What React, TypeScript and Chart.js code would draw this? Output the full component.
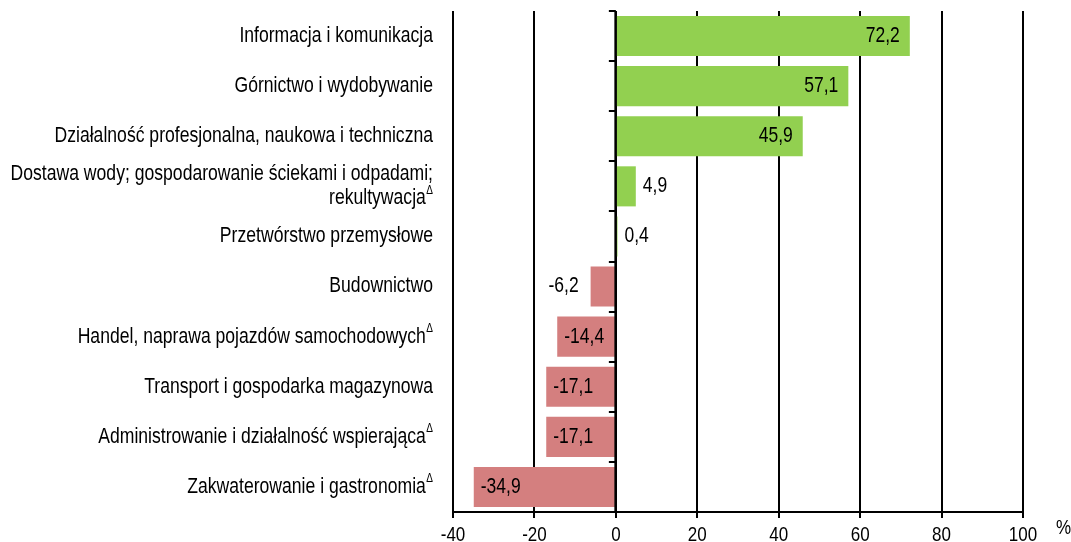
import React, { useEffect, useRef } from "react";
import { Chart, registerables } from "chart.js";

Chart.register(...registerables);

const categories: string[][] = [
  ["Informacja i komunikacja"],
  ["Górnictwo i wydobywanie"],
  ["Działalność profesjonalna, naukowa i techniczna"],
  ["Dostawa wody; gospodarowanie ściekami i odpadami;", "rekultywacja"],
  ["Przetwórstwo przemysłowe"],
  ["Budownictwo"],
  ["Handel, naprawa pojazdów samochodowych"],
  ["Transport i gospodarka magazynowa"],
  ["Administrowanie i działalność wspierająca"],
  ["Zakwaterowanie i gastronomia"],
];
const deltaMark: boolean[] = [false, false, false, true, false, false, true, false, true, true];
const values: number[] = [72.2, 57.1, 45.9, 4.9, 0.4, -6.2, -14.4, -17.1, -17.1, -34.9];
const xTicks: number[] = [-40, -20, 0, 20, 40, 60, 80, 100];
const unitLabel = "%";

const GREEN = "#92D050";
const RED = "#D47F7F";
const FONT = "'Liberation Sans', Arial, sans-serif";
const SY = 1.22;

const fmt = (v: number) => v.toFixed(1).replace(".", ",");

function drawText(
  ctx: CanvasRenderingContext2D,
  text: string,
  x: number,
  y: number,
  align: CanvasTextAlign,
  size: number,
  baseline: CanvasTextBaseline = "middle"
) {
  ctx.save();
  ctx.font = `${size}px ${FONT}`;
  ctx.textAlign = align;
  ctx.textBaseline = baseline;
  ctx.translate(x, y);
  ctx.scale(1, SY);
  ctx.fillText(text, 0, 0);
  ctx.restore();
}

const overlayPlugin = {
  id: "overlay",
  afterDatasetsDraw(chart: any) {
    const ctx: CanvasRenderingContext2D = chart.ctx;
    const x = chart.scales.x;
    const y = chart.scales.y;
    const area = chart.chartArea;
    ctx.save();
    const zx = x.getPixelForValue(0);
    ctx.strokeStyle = "#000";
    ctx.lineWidth = 2;
    // zero line on top of bars
    ctx.beginPath();
    ctx.moveTo(zx - 0.5, area.top);
    ctx.lineTo(zx - 0.5, area.bottom);
    ctx.stroke();
    // zero-line ticks at category boundaries
    const band = (area.bottom - area.top) / categories.length;
    for (let i = 0; i < categories.length; i++) {
      const by = Math.round(area.top + i * band);
      ctx.beginPath();
      ctx.moveTo(zx - 7, by);
      ctx.lineTo(zx, by);
      ctx.stroke();
    }
    ctx.fillStyle = "#000";
    // category labels
    const labelRight = area.left - 20;
    const size = 17.6;
    categories.forEach((lines, i) => {
      const cy = y.getPixelForValue(i);
      const lh = 24;
      const startY = cy - ((lines.length - 1) * lh) / 2;
      lines.forEach((line, j) => {
        const ly = startY + j * lh;
        const isLast = j === lines.length - 1;
        let right = labelRight;
        if (isLast && deltaMark[i]) {
          drawText(ctx, "\u0394", labelRight, ly - 8, "right", 10);
          ctx.font = `10px ${FONT}`;
          right = labelRight - ctx.measureText("\u0394").width - 0.5;
        }
        drawText(ctx, line, right, ly, "right", size);
      });
    });
    // value labels
    values.forEach((v, i) => {
      const cy = y.getPixelForValue(i);
      const ex = x.getPixelForValue(v);
      const t = fmt(v);
      if (v >= 0) {
        if (v >= 10) drawText(ctx, t, ex - 10, cy, "right", 17.5);
        else drawText(ctx, t, ex + 7, cy, "left", 17.5);
      } else {
        if (v <= -10) drawText(ctx, t, ex + 7, cy, "left", 17.5);
        else drawText(ctx, t, ex - 12, cy, "right", 17.5);
      }
    });
    // x tick labels
    xTicks.forEach((v) => {
      drawText(ctx, String(v), x.getPixelForValue(v), area.bottom + 29, "center", 17, "alphabetic");
    });
    // unit label
    drawText(ctx, unitLabel, area.right + 33, area.bottom + 22, "left", 17, "alphabetic");
    ctx.restore();
  },
};

export default function App() {
  const ref = useRef<HTMLCanvasElement | null>(null);
  useEffect(() => {
    document.body.style.margin = "0";
    const canvas = ref.current;
    if (!canvas) return;
    const chart = new Chart(canvas, {
      type: "bar",
      data: {
        labels: categories.map((c) => c.join(" ")),
        datasets: [
          {
            data: values,
            backgroundColor: values.map((v) => (v >= 0 ? GREEN : RED)),
            borderWidth: 0,
            barPercentage: 0.8,
            categoryPercentage: 1,
          },
        ],
      },
      options: {
        indexAxis: "y",
        animation: false,
        responsive: false,
        maintainAspectRatio: false,
        layout: { padding: { left: 453, right: 48, top: 11, bottom: 0 } },
        plugins: {
          legend: { display: false },
          tooltip: { enabled: false },
        },
        scales: {
          x: {
            type: "linear",
            min: -40,
            max: 100,
            afterBuildTicks: (s: any) => {
              s.ticks = xTicks.map((v) => ({ value: v }));
            },
            afterFit: (s: any) => {
              s.height = 30;
            },
            grid: {
              color: "#000",
              lineWidth: 2,
              drawTicks: true,
              tickLength: 6,
              tickColor: "#000",
            },
            border: { display: true, color: "#000", width: 2 },
            ticks: {
              display: false,
            },
          },
          y: {
            display: false,
            grid: { display: false },
          },
        },
      },
      plugins: [overlayPlugin],
    });
    return () => chart.destroy();
  }, []);
  return (
    <div style={{ width: 1071, height: 542 }}>
      <canvas ref={ref} width={1071} height={542} style={{ display: "block" }} />
    </div>
  );
}
